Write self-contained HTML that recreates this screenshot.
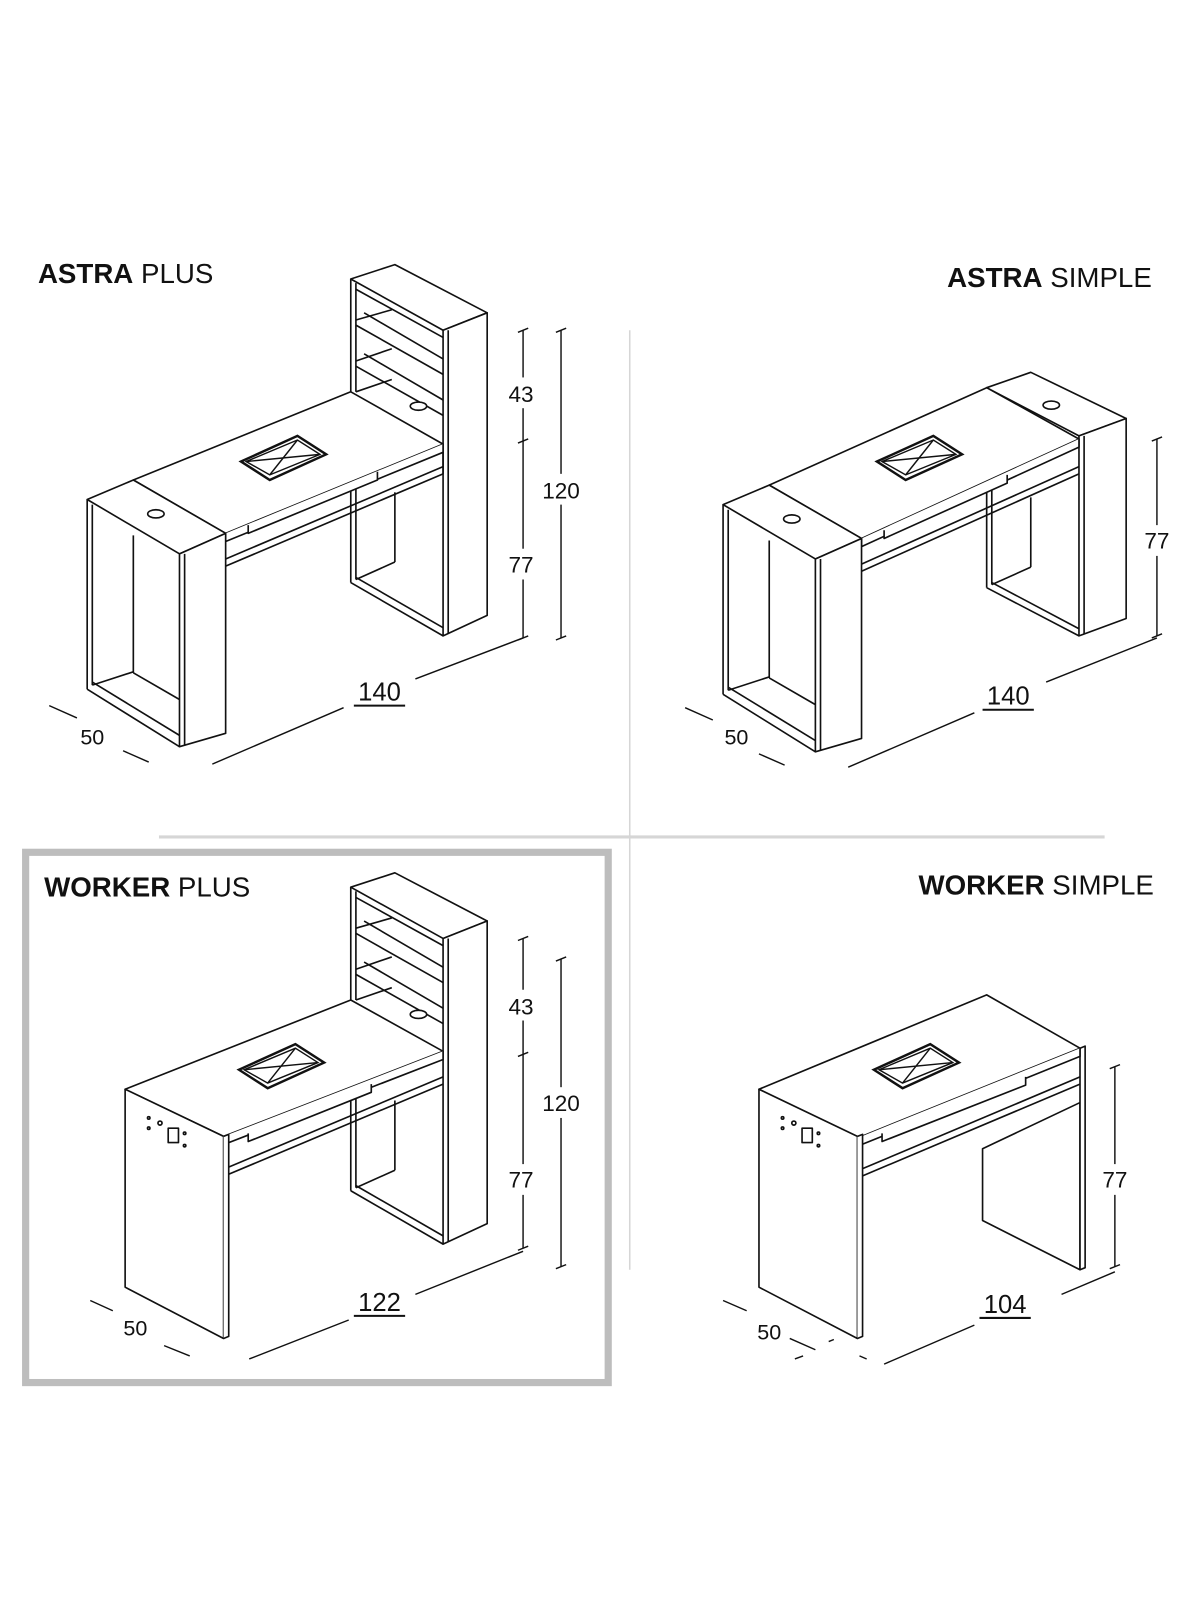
<!DOCTYPE html>
<html><head><meta charset="utf-8"><style>
html,body{margin:0;padding:0;background:#fff}
svg{display:block}
text{font-family:"Liberation Sans",sans-serif;fill:#111}
</style></head><body>
<svg width="1200" height="1600" viewBox="0 0 1170 1560" preserveAspectRatio="none" xmlns="http://www.w3.org/2000/svg">
<defs>
<g id="tower" fill="#fff" stroke="#111" stroke-width="1.6" stroke-linejoin="round">
  <polygon points="342,272 385,258 475,305 432,322"/>
  <polygon points="432,322 475,305 475,600 432,620"/>
  <line x1="437" y1="322" x2="437" y2="618"/>
  <line x1="342" y1="272" x2="342" y2="384"/>
  <line x1="347" y1="276" x2="347" y2="382"/>
  <line x1="347" y1="282" x2="432" y2="329"/>
  <line x1="355" y1="305" x2="432" y2="350"/>
  <line x1="347" y1="317" x2="432" y2="365"/>
  <line x1="347" y1="312" x2="382" y2="302"/>
  <line x1="355" y1="345" x2="432" y2="390"/>
  <line x1="347" y1="357" x2="432" y2="405"/>
  <line x1="347" y1="352" x2="382" y2="340"/>
  <line x1="347" y1="382" x2="382" y2="370"/>
  <ellipse cx="408" cy="396" rx="8" ry="4"/>
  <line x1="342" y1="470" x2="342" y2="568"/>
  <line x1="347" y1="470" x2="347" y2="565"/>
  <line x1="342" y1="568" x2="432" y2="620"/>
  <line x1="347" y1="563" x2="432" y2="612"/>
  <line x1="347" y1="565" x2="385" y2="548"/>
  <line x1="385" y1="480" x2="385" y2="548"/>
</g>
<g id="vent" fill="none" stroke="#111" stroke-width="1.4">
  <polygon points="0,0 55,-25 83,-7 28,18" stroke-width="2.4"/>
  <polygon points="5,0 55,-21 77,-7 28,13"/>
  <line x1="5" y1="0" x2="77" y2="-7"/><line x1="55" y1="-21" x2="28" y2="13"/>
</g>
<g id="plusdesk" fill="#fff" stroke="#111" stroke-width="1.6" stroke-linejoin="round">
  <polygon points="130,468 342,382 432,433 220,520"/>
  <polyline points="220,520 220,528 432,441 432,433"/>
  <line x1="220" y1="545" x2="432" y2="455"/>
  <line x1="220" y1="552" x2="432" y2="462"/>
  <polyline points="242,512 242,520 368,468 368,460"/>
  <line x1="432" y1="441" x2="432" y2="462"/>
</g>
<g id="leftcab" fill="#fff" stroke="#111" stroke-width="1.6" stroke-linejoin="round">
  <polygon points="85,487 130,468 220,520 175,540"/>
  <polygon points="175,540 220,520 220,715 175,728"/>
  <line x1="180" y1="540" x2="180" y2="727"/>
  <line x1="85" y1="487" x2="85" y2="672"/>
  <line x1="90" y1="492" x2="90" y2="668"/>
  <line x1="85" y1="672" x2="175" y2="728"/>
  <line x1="90" y1="665" x2="175" y2="717"/>
  <line x1="130" y1="522" x2="130" y2="656"/>
  <line x1="90" y1="668" x2="130" y2="655"/>
  <line x1="130" y1="656" x2="175" y2="682"/>
  <ellipse cx="152" cy="501" rx="8" ry="4"/>
</g>
<g id="panel" fill="#fff" stroke="#111" stroke-width="1.6" stroke-linejoin="round">
  <polygon points="122,1062 218,1108 218,1305 122,1255"/>
  <polyline points="218,1108 223,1106 223,1303 218,1305"/>
  <circle cx="145" cy="1090" r="1.2"/><circle cx="145" cy="1100" r="1.2"/>
  <circle cx="156" cy="1095" r="2"/>
  <rect x="164" y="1100" width="10" height="14"/>
  <circle cx="180" cy="1105" r="1.2"/><circle cx="180" cy="1117" r="1.2"/>
</g>
</defs>

<!-- dividers -->
<line x1="155" y1="816" x2="1077" y2="816" stroke="#d6d6d6" stroke-width="3"/>
<line x1="614" y1="322" x2="614" y2="1238" stroke="#d6d6d6" stroke-width="1.5"/>
<rect x="25" y="831" width="568" height="517" fill="none" stroke="#bdbdbd" stroke-width="7"/>

<!-- ASTRA PLUS -->
<text x="37" y="276" font-size="27"><tspan font-weight="bold">ASTRA</tspan> PLUS</text>
<use href="#tower"/>
<use href="#plusdesk"/>
<use href="#vent" x="235" y="450"/>
<use href="#leftcab"/>
<g stroke="#111" stroke-width="1.4" fill="none">
  <line x1="510" y1="322" x2="510" y2="622"/><line x1="505" y1="324" x2="515" y2="320"/><line x1="505" y1="432" x2="515" y2="428"/><line x1="505" y1="624" x2="515" y2="620"/>
  <line x1="547" y1="322" x2="547" y2="622"/><line x1="542" y1="324" x2="552" y2="320"/><line x1="542" y1="624" x2="552" y2="620"/>
  <line x1="207" y1="745" x2="335" y2="690"/><line x1="405" y1="662" x2="510" y2="622"/>
  <line x1="48" y1="688" x2="75" y2="700"/><line x1="120" y1="732" x2="145" y2="743"/>
  <line x1="345" y1="688" x2="395" y2="688" stroke-width="2"/>
</g>
<rect x="498" y="368" width="24" height="30" fill="#fff"/><rect x="498" y="535" width="24" height="30" fill="#fff"/><rect x="530" y="462" width="34" height="30" fill="#fff"/>
<text x="508" y="392" font-size="22" text-anchor="middle">43</text>
<text x="508" y="558" font-size="22" text-anchor="middle">77</text>
<text x="547" y="486" font-size="22" text-anchor="middle">120</text>
<text x="370" y="683" font-size="25" text-anchor="middle">140</text>
<text x="90" y="726" font-size="21" text-anchor="middle">50</text>

<!-- ASTRA SIMPLE -->
<text x="1123" y="280" font-size="27" text-anchor="end"><tspan font-weight="bold">ASTRA</tspan> SIMPLE</text>
<g transform="translate(620,5)">
  <g fill="#fff" stroke="#111" stroke-width="1.6" stroke-linejoin="round">
    <polygon points="342,373 385,358 478,403 432,420"/>
    <polygon points="432,420 478,403 478,598 432,615"/>
    <line x1="437" y1="420" x2="437" y2="613"/>
    <line x1="342" y1="470" x2="342" y2="568"/><line x1="347" y1="470" x2="347" y2="565"/>
    <line x1="342" y1="568" x2="432" y2="615"/><line x1="347" y1="563" x2="432" y2="608"/>
    <line x1="347" y1="565" x2="385" y2="548"/><line x1="385" y1="480" x2="385" y2="548"/>
    <ellipse cx="405" cy="390" rx="8" ry="4"/>
  </g>
  <g fill="#fff" stroke="#111" stroke-width="1.6" stroke-linejoin="round">
    <polygon points="130,468 342,373 432,423 220,520"/>
    <polyline points="220,520 220,528 432,431 432,423"/>
    <line x1="220" y1="545" x2="432" y2="450"/><line x1="220" y1="552" x2="432" y2="457"/>
    <polyline points="242,512 242,520 362,466 362,458"/>
  </g>
  <use href="#vent" x="235" y="445"/>
  <use href="#leftcab"/>
</g>
<g stroke="#111" stroke-width="1.4" fill="none">
  <line x1="1128" y1="428" x2="1128" y2="620"/><line x1="1123" y1="430" x2="1133" y2="426"/><line x1="1123" y1="622" x2="1133" y2="618"/>
  <line x1="827" y1="748" x2="950" y2="695"/><line x1="1020" y1="665" x2="1128" y2="622"/>
  <line x1="668" y1="690" x2="695" y2="702"/><line x1="740" y1="735" x2="765" y2="746"/>
  <line x1="958" y1="692" x2="1008" y2="692" stroke-width="2"/>
</g>
<rect x="1114" y="512" width="28" height="30" fill="#fff"/>
<text x="1128" y="535" font-size="22" text-anchor="middle">77</text>
<text x="983" y="687" font-size="25" text-anchor="middle">140</text>
<text x="718" y="726" font-size="21" text-anchor="middle">50</text>

<!-- WORKER PLUS -->
<text x="43" y="874" font-size="27"><tspan font-weight="bold">WORKER</tspan> PLUS</text>
<g transform="translate(0,593)"><use href="#tower"/></g>
<g fill="#fff" stroke="#111" stroke-width="1.6" stroke-linejoin="round">
  <polygon points="122,1062 342,975 432,1025 218,1108"/>
  <polyline points="218,1108 218,1116 432,1033 432,1025"/>
  <line x1="218" y1="1140" x2="432" y2="1050"/><line x1="218" y1="1147" x2="432" y2="1057"/>
  <polyline points="242,1105 242,1113 362,1065 362,1057"/>
</g>
<use href="#vent" x="233" y="1043"/>
<use href="#panel"/>
<g stroke="#111" stroke-width="1.4" fill="none">
  <line x1="510" y1="915" x2="510" y2="1217"/><line x1="505" y1="917" x2="515" y2="913"/><line x1="505" y1="1030" x2="515" y2="1026"/><line x1="505" y1="1219" x2="515" y2="1215"/>
  <line x1="547" y1="935" x2="547" y2="1235"/><line x1="542" y1="937" x2="552" y2="933"/><line x1="542" y1="1237" x2="552" y2="1233"/>
  <line x1="243" y1="1325" x2="340" y2="1287"/><line x1="405" y1="1262" x2="510" y2="1220"/>
  <line x1="88" y1="1268" x2="110" y2="1278"/><line x1="160" y1="1312" x2="185" y2="1322"/>
  <line x1="345" y1="1283" x2="395" y2="1283" stroke-width="2"/>
</g>
<rect x="495" y="965" width="28" height="30" fill="#fff"/><rect x="495" y="1135" width="28" height="30" fill="#fff"/><rect x="530" y="1060" width="34" height="30" fill="#fff"/>
<text x="508" y="989" font-size="22" text-anchor="middle">43</text>
<text x="508" y="1158" font-size="22" text-anchor="middle">77</text>
<text x="547" y="1083" font-size="22" text-anchor="middle">120</text>
<text x="370" y="1278" font-size="25" text-anchor="middle">122</text>
<text x="132" y="1302" font-size="21" text-anchor="middle">50</text>

<!-- WORKER SIMPLE -->
<text x="1125" y="872" font-size="27" text-anchor="end"><tspan font-weight="bold">WORKER</tspan> SIMPLE</text>
<g fill="#fff" stroke="#111" stroke-width="1.6" stroke-linejoin="round">
  <polygon points="958,1120 1053,1075 1053,1238 958,1190"/>
  <polyline points="1053,1022 1058,1020 1058,1236 1053,1238"/>
  <line x1="1053" y1="1022" x2="1053" y2="1238"/>
  <polygon points="740,1062 962,970 1053,1022 835,1110"/>
  <polyline points="835,1110 835,1118 1053,1030 1053,1022"/>
  <line x1="835" y1="1142" x2="1053" y2="1050"/><line x1="835" y1="1149" x2="1053" y2="1057"/>
  <polyline points="860,1105 860,1113 1000,1058 1000,1050"/>
</g>
<use href="#vent" x="852" y="1043"/>
<g transform="translate(618,0)"><use href="#panel"/></g>
<g stroke="#111" stroke-width="1.4" fill="none">
  <line x1="1087" y1="1040" x2="1087" y2="1235"/><line x1="1082" y1="1042" x2="1092" y2="1038"/><line x1="1082" y1="1237" x2="1092" y2="1233"/>
  <line x1="862" y1="1330" x2="950" y2="1292"/><line x1="1035" y1="1262" x2="1087" y2="1240"/>
  <line x1="705" y1="1268" x2="728" y2="1278"/><line x1="770" y1="1305" x2="795" y2="1316"/>
  <line x1="775" y1="1325" x2="783" y2="1322"/><line x1="808" y1="1308" x2="813" y2="1306"/><line x1="838" y1="1322" x2="845" y2="1325"/>
  <line x1="955" y1="1285" x2="1005" y2="1285" stroke-width="2"/>
</g>
<rect x="1072" y="1135" width="28" height="30" fill="#fff"/>
<text x="1087" y="1158" font-size="22" text-anchor="middle">77</text>
<text x="980" y="1280" font-size="25" text-anchor="middle">104</text>
<text x="750" y="1306" font-size="21" text-anchor="middle">50</text>
</svg>
</body></html>
